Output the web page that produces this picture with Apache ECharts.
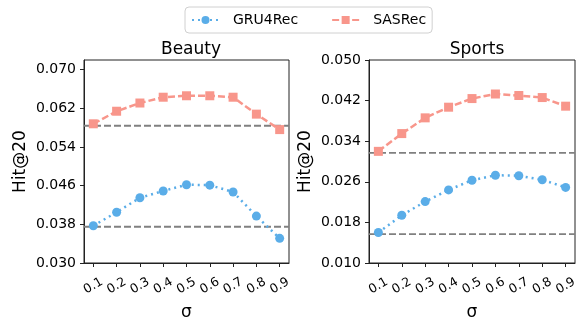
<!DOCTYPE html>
<html>
<head>
<meta charset="utf-8">
<script src="https://cdn.jsdelivr.net/npm/echarts@6/dist/echarts.min.js"></script>
<style>
  html, body { margin: 0; padding: 0; background: #fff; }
  #chart { width: 577px; height: 320px; }
</style>
</head>
<body>
<div id="chart"></div>
<script>
// sigma values on the x axis
const sigma = [0.1, 0.2, 0.3, 0.4, 0.5, 0.6, 0.7, 0.8, 0.9];
const xRange = [0.06, 0.94];

// Beauty
const beautyGRU = [0.0377, 0.0405, 0.0435, 0.0449, 0.0462, 0.0461, 0.0447, 0.0397, 0.0351];
const beautySAS = [0.0588, 0.0614, 0.0631, 0.0643, 0.0646, 0.0646, 0.0643, 0.0608, 0.0576];
const beautyBase = [0.0375, 0.0584]; // GRU4Rec, SASRec baselines
const beautyTicks = [0.030, 0.038, 0.046, 0.054, 0.062, 0.070];

// Sports
const sportsGRU = [0.0160, 0.0194, 0.0221, 0.0244, 0.0263, 0.0273, 0.0272, 0.0264, 0.0249];
const sportsSAS = [0.0320, 0.0355, 0.0386, 0.0407, 0.0424, 0.0433, 0.0430, 0.0426, 0.0409];
const sportsBase = [0.0157, 0.0317];
const sportsTicks = [0.010, 0.018, 0.026, 0.034, 0.042, 0.050];

const FONT = 'DejaVu Sans';
const BLUE = '#5aade8';
const SALMON = '#f8968b';
const AXIS = '#222';

const chart = echarts.init(document.getElementById('chart'), null, { renderer: 'canvas' });

function xAxis(gridIndex) {
  return {
    type: 'value',
    gridIndex: gridIndex,
    min: xRange[0],
    max: xRange[1],
    name: 'σ',
    nameLocation: 'middle',
    nameGap: 41,
    nameTextStyle: { fontFamily: FONT, fontSize: 17, color: '#000' },
    splitLine: { show: false },
    axisLine: { lineStyle: { color: AXIS, width: 1 } },
    axisTick: { customValues: sigma, length: 4, lineStyle: { color: AXIS } },
    axisLabel: {
      customValues: sigma,
      rotate: 30,
      align: 'center',
      verticalAlign: 'middle',
      margin: 23,
      fontFamily: FONT,
      fontSize: 12.5,
      lineHeight: 10,
      color: '#000',
      formatter: v => v.toFixed(1)
    }
  };
}

function yAxis(gridIndex, min, max, ticks) {
  return {
    type: 'value',
    gridIndex: gridIndex,
    min: min,
    max: max,
    name: 'Hit@20',
    nameLocation: 'middle',
    nameGap: 55,
    nameTextStyle: { fontFamily: FONT, fontSize: 17, color: '#000' },
    splitLine: { show: false },
    axisLine: { show: true, lineStyle: { color: AXIS, width: 1 } },
    axisTick: { show: true, customValues: ticks, length: 4, lineStyle: { color: AXIS } },
    axisLabel: {
      customValues: ticks,
      margin: 8,
      fontFamily: FONT,
      fontSize: 14,
      color: '#000',
      formatter: v => v.toFixed(3)
    }
  };
}

// horizontal dashed baseline across the whole plot
function baseSeries(idx, value, key) {
  return {
    name: 'base-' + key,
    type: 'line',
    xAxisIndex: idx,
    yAxisIndex: idx,
    data: xRange.map(x => [x, value]),
    symbol: 'none',
    silent: true,
    lineStyle: { color: '#808080', width: 1.8, type: [7, 3] },
    z: 2
  };
}

function gruSeries(idx, data) {
  return {
    name: 'GRU4Rec',
    type: 'line',
    xAxisIndex: idx,
    yAxisIndex: idx,
    data: sigma.map((s, i) => [s, data[i]]),
    symbol: 'circle',
    symbolSize: 9,
    itemStyle: { color: BLUE },
    lineStyle: { color: BLUE, width: 2.5, type: [2, 4] },
    z: 3
  };
}

function sasSeries(idx, data) {
  return {
    name: 'SASRec',
    type: 'line',
    xAxisIndex: idx,
    yAxisIndex: idx,
    data: sigma.map((s, i) => [s, data[i]]),
    symbol: 'rect',
    symbolSize: 9,
    itemStyle: { color: SALMON },
    lineStyle: { color: SALMON, width: 2.5, type: [7, 3] },
    z: 3
  };
}

const option = {
  animation: false,
  backgroundColor: '#fff',
  textStyle: { fontFamily: FONT },
  title: [
    { text: 'Beauty', left: 186, top: 36, textAlign: 'center',
      textStyle: { fontFamily: FONT, fontSize: 17, fontWeight: 'normal', color: '#000' } },
    { text: 'Sports', left: 472, top: 36, textAlign: 'center',
      textStyle: { fontFamily: FONT, fontSize: 17, fontWeight: 'normal', color: '#000' } }
  ],
  legend: {
    left: 185,
    top: 7,
    padding: [5, 6],
    itemWidth: 27,
    itemHeight: 10,
    itemGap: 33,
    borderColor: '#d0d0d0',
    borderWidth: 1,
    borderRadius: 4,
    textStyle: { fontFamily: FONT, fontSize: 14, color: '#000', padding: [0, 0, 0, 9], lineHeight: 16 },
    data: ['GRU4Rec', 'SASRec']
  },
  grid: [
    { left: 84, right: 288, top: 60, height: 203, outerBoundsMode: 'none',
      show: true, borderColor: AXIS, borderWidth: 1 },
    { left: 369, right: 2, top: 60, height: 203, outerBoundsMode: 'none',
      show: true, borderColor: AXIS, borderWidth: 1 }
  ],
  xAxis: [xAxis(0), xAxis(1)],
  yAxis: [yAxis(0, 0.030, 0.072, beautyTicks), yAxis(1, 0.010, 0.050, sportsTicks)],
  series: [
    baseSeries(0, beautyBase[0], 'b0'),
    baseSeries(0, beautyBase[1], 'b1'),
    baseSeries(1, sportsBase[0], 's0'),
    baseSeries(1, sportsBase[1], 's1'),
    gruSeries(0, beautyGRU),
    sasSeries(0, beautySAS),
    gruSeries(1, sportsGRU),
    sasSeries(1, sportsSAS)
  ]
};

chart.setOption(option);
</script>
</body>
</html>
